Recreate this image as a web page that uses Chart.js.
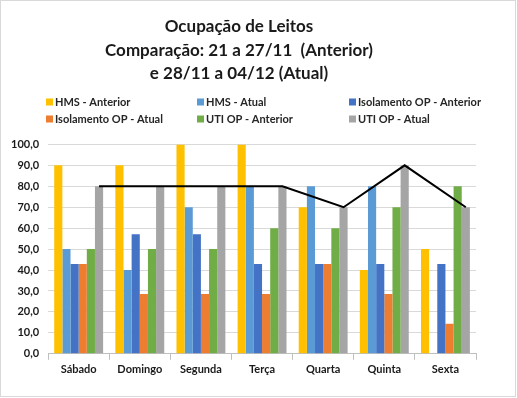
<!DOCTYPE html>
<html>
<head>
<meta charset="utf-8">
<script src="https://cdn.jsdelivr.net/npm/chart.js@4"></script>
<style>
  html, body { margin: 0; padding: 0; background: #fff; }
  #wrap { width: 517px; height: 398px; position: relative; }
</style>
</head>
<body>
<div id="wrap"><canvas id="leitosChart" width="517" height="398"></canvas></div>
<script>
// dados
const dias = ["Sábado", "Domingo", "Segunda", "Terça", "Quarta", "Quinta", "Sexta"];
const hmsAnterior = [90, 90, 100, 100, 70, 40, 50];
const hmsAtual = [50, 40, 70, 80, 80, 80, null];
const isoAnterior = [42.9, 57.1, 57.1, 42.9, 42.9, 42.9, 42.9];
const isoAtual = [42.9, 28.6, 28.6, 28.6, 42.9, 28.6, 14.3];
const utiAnterior = [50, 50, 50, 60, 60, 70, 80];
const utiAtual = [80, 80, 80, 80, 70, 90, 70];
const yTicks = [0, 10, 20, 30, 40, 50, 60, 70, 80, 90, 100];

const nomes = ["HMS - Anterior", "HMS - Atual", "Isolamento OP - Anterior",
               "Isolamento OP - Atual", "UTI OP - Anterior", "UTI OP - Atual"];
const cores = ["#FFC000", "#5B9BD5", "#4472C4", "#ED7D31", "#70AD47", "#A5A5A5"];
const series = [hmsAnterior, hmsAtual, isoAnterior, isoAtual, utiAnterior, utiAtual];

const catPct = 0.8;

let datasets = series.map(function (vals, i) {
    return {
        type: "bar",
        label: nomes[i],
        data: vals,
        backgroundColor: cores[i],
        order: 1,
        barPercentage: 1.0,
        categoryPercentage: catPct
    };
});

datasets.push({
    type: "line",
    label: "linha",
    data: utiAtual,
    borderColor: "#000000",
    borderWidth: 2,
    pointRadius: 0,
    fill: false,
    tension: 0,
    order: 0
});

// desloca a linha para o centro da barra cinza (ultima do grupo)
const shiftLine = {
    id: "shiftLine",
    beforeDatasetDraw(chart, args) {
        if (args.meta.type !== "line") return;
        const xs = chart.scales.x;
        const catW = (xs.right - xs.left) / dias.length;
        chart.ctx.save();
        chart.ctx.translate(catW * catPct * (5.5 / 6 - 0.5), 0);
    },
    afterDatasetDraw(chart, args) {
        if (args.meta.type !== "line") return;
        chart.ctx.restore();
    }
};

// legenda em 3 colunas, como no Excel
const legendPlugin = {
    id: "colLegend",
    afterDraw(chart) {
        const ctx = chart.ctx;
        const colX = [46, 197, 349];
        const rowY = [102, 119];
        ctx.save();
        ctx.font = "bold 11px Lato";
        ctx.textBaseline = "middle";
        nomes.forEach(function (n, i) {
            const cx = colX[i % 3];
            const cy = rowY[Math.floor(i / 3)];
            ctx.fillStyle = cores[i];
            ctx.fillRect(cx, cy - 3.5, 7, 7);
            ctx.fillStyle = "#262626";
            ctx.fillText(n, cx + 9, cy);
        });
        // borda do grafico
        ctx.strokeStyle = "#d9d9d9";
        ctx.lineWidth = 1;
        ctx.strokeRect(0.5, 0.5, 515, 396);
        ctx.restore();
    }
};

new Chart("leitosChart", {
    type: "bar",
    data: {
        labels: dias,
        datasets: datasets
    },
    options: {
        responsive: false,
        animation: false,
        layout: { padding: { left: 2, right: 41, bottom: 19, top: 0 } },
        plugins: {
            legend: { display: false },
            tooltip: { enabled: false },
            title: {
                display: true,
                text: ["Ocupação de Leitos", "Comparação: 21 a 27/11  (Anterior)", "e 28/11 a 04/12 (Atual)"],
                color: "#1a1a1a",
                font: { family: "Lato", size: 17, weight: "bold", lineHeight: 1.38 },
                padding: { top: 15, bottom: 59 }
            }
        },
        scales: {
            x: {
                type: "category",
                offset: true,
                grid: {
                    offset: true,
                    drawOnChartArea: false,
                    tickLength: 6,
                    color: "#bfbfbf"
                },
                border: { color: "#bfbfbf" },
                ticks: {
                    color: "#1a1a1a",
                    font: { family: "Lato", size: 11, weight: "bold" },
                    padding: 3
                }
            },
            y: {
                min: 0,
                max: 100,
                afterBuildTicks(axis) {
                    axis.ticks = yTicks.map(function (v) { return { value: v }; });
                },
                grid: { color: "#d9d9d9", drawTicks: false },
                border: { display: false },
                ticks: {
                    color: "#1a1a1a",
                    font: { family: "Lato", size: 11, weight: "bold" },
                    padding: 9,
                    callback: function (v) { return v.toFixed(1).replace(".", ","); }
                }
            }
        }
    },
    plugins: [shiftLine, legendPlugin]
});
</script>
</body>
</html>
